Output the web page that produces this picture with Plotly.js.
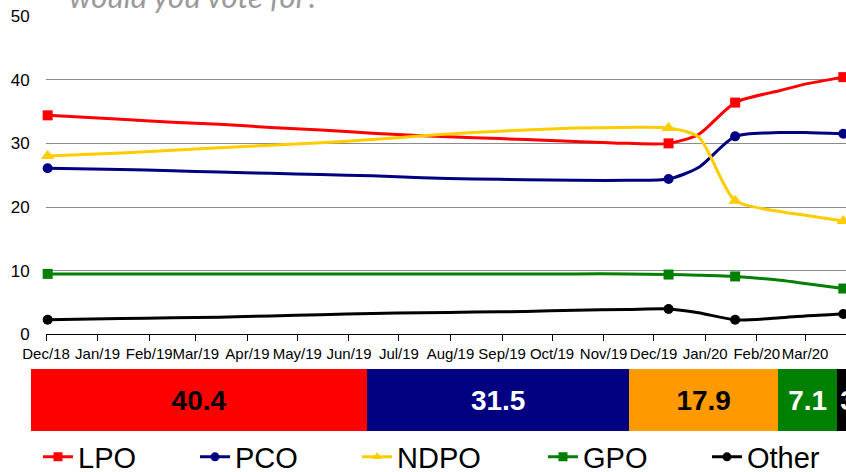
<!DOCTYPE html>
<html>
<head>
<meta charset="utf-8">
<script src="https://cdn.plot.ly/plotly-3.0.1.min.js"></script>
<style>
html,body{margin:0;padding:0;overflow:hidden;background:#fff;}
#chart{width:880px;height:472px;}
</style>
</head>
<body>
<div id="chart"></div>
<script>
// ---- data ----
const dates = ['2018-12-02','2019-01-15','2019-02-15','2019-03-15','2019-04-15','2019-05-15',
  '2019-06-15','2019-07-15','2019-08-15','2019-09-15','2019-10-15','2019-11-15',
  '2019-12-10','2019-12-28','2020-01-19','2020-02-15','2020-03-01','2020-03-24'];
const markerIdx = [0, 12, 14, 17];
const parties = ['LPO','PCO','NDPO','GPO','Other'];
const lpo   = [34.4,33.8,33.3,33.0,32.5,32.1,31.6,31.2,30.9,30.6,30.3,30.0,30.0,31.4,36.4,38.3,39.3,40.4];
const pco   = [26.1,25.9,25.7,25.5,25.3,25.1,24.9,24.6,24.4,24.3,24.2,24.2,24.4,26.2,31.1,31.7,31.7,31.5];
const ndpo  = [28.0,28.5,28.9,29.3,29.7,30.1,30.6,31.2,31.7,32.1,32.4,32.5,32.4,31.0,21.0,19.3,18.7,17.8];
const gpo   = [9.5,9.5,9.5,9.5,9.5,9.5,9.5,9.5,9.5,9.5,9.5,9.5,9.4,9.3,9.1,8.5,8.0,7.2];
const other = [2.3,2.5,2.6,2.7,2.9,3.1,3.3,3.4,3.5,3.6,3.8,3.9,4.0,3.4,2.3,2.6,2.9,3.2];
const latest = [40.4, 31.5, 17.9, 7.1, 3.1];
const titleText = 'would you vote for?';

// ---- styles ----
const W = 880, H = 472;
const series = [lpo, pco, ndpo, gpo, other];
const lineColors = ['#ff0000','#000080','#ffcc00','#008000','#000000'];
const barColors  = ['#ff0000','#000080','#ff9900','#008000','#000000'];
const barText    = ['#000000','#ffffff','#000000','#ffffff','#ffffff'];
const barAnchor  = ['middle','middle','middle','middle','start'];
const symbols = ['square','circle','triangle-up','square','circle'];
const msize   = [10, 10, 12, 10, 10];
const legW    = [112, 117, 141, 119, 120];
const FONT = 'Liberation Sans, Arial, sans-serif';

const traces = [];
series.forEach((s, i) => {
  traces.push({
    x: dates, y: s, type: 'scatter', mode: 'lines',
    line: {color: lineColors[i], width: 3, shape: 'spline', smoothing: 0.7},
    showlegend: false, hoverinfo: 'skip', xaxis: 'x', yaxis: 'y'
  });
  traces.push({
    x: markerIdx.map(k => dates[k]), y: markerIdx.map(k => s[k]),
    type: 'scatter', mode: 'markers', cliponaxis: false,
    marker: {symbol: symbols[i], size: msize[i], color: lineColors[i]},
    showlegend: false, hoverinfo: 'skip', xaxis: 'x', yaxis: 'y'
  });
});
// legend entries
parties.forEach((p, i) => {
  traces.push({
    x: [null], y: [null], type: 'scatter', mode: 'lines+markers', name: p,
    line: {color: lineColors[i], width: 3},
    marker: {symbol: symbols[i], size: 9, color: lineColors[i]},
    legendwidth: legW[i], xaxis: 'x', yaxis: 'y', hoverinfo: 'skip'
  });
});
// stacked bar
parties.forEach((p, i) => {
  traces.push({
    type: 'bar', orientation: 'h', x: [latest[i]], y: ['latest'],
    xaxis: 'x2', yaxis: 'y2', width: 1,
    marker: {color: barColors[i], line: {width: 0}},
    text: [latest[i].toFixed(1)], textposition: 'inside', insidetextanchor: barAnchor[i],
    textangle: 0, constraintext: 'none',
    insidetextfont: {family: FONT, size: 28, color: barText[i], weight: 'bold'},
    showlegend: false, hoverinfo: 'skip'
  });
});

const layout = {
  width: W, height: H,
  margin: {l: 0, r: 0, t: 0, b: 0, pad: 0, autoexpand: false},
  paper_bgcolor: '#fff', plot_bgcolor: '#fff',
  barmode: 'stack',
  showlegend: true,
  uniformtext: {mode: 'show', minsize: 28},
  xaxis: {
    domain: [46 / W, 855 / W], type: 'date',
    range: ['2018-12-01', '2020-03-31'],
    tick0: '2018-12-01', dtick: 'M1', tickformat: '%b/%y', tickangle: 0,
    ticks: 'outside', ticklen: 6, tickcolor: '#000', tickwidth: 1,
    showline: true, linecolor: '#000', linewidth: 1,
    showgrid: false, zeroline: false,
    tickfont: {family: FONT, size: 15, color: '#000'},
    anchor: 'y', fixedrange: true
  },
  yaxis: {
    domain: [1 - 334.4 / H, 1 - 16 / H], range: [0, 50], dtick: 10,
    showgrid: true, gridcolor: '#8c8c8c', gridwidth: 1,
    zeroline: false, showline: false,
    ticks: 'outside', ticklen: 12, tickcolor: 'rgba(0,0,0,0)',
    tickfont: {family: FONT, size: 17, color: '#000'},
    anchor: 'x', fixedrange: true
  },
  xaxis2: {domain: [31 / W, 863 / W], range: [0, 100], visible: false, anchor: 'y2', fixedrange: true},
  yaxis2: {domain: [1 - 431 / H, 1 - 369 / H], range: [-0.5, 0.5], visible: false,
           anchor: 'x2', type: 'category', fixedrange: true},
  legend: {
    orientation: 'h', x: 38 / W, xanchor: 'left', y: 1 - 457 / H, yanchor: 'middle',
    font: {family: FONT, size: 29, color: '#000'},
    itemwidth: 30, bgcolor: 'rgba(0,0,0,0)', borderwidth: 0, traceorder: 'normal'
  },
  annotations: [{
    text: titleText, xref: 'paper', yref: 'paper', x: 67 / W, xanchor: 'left',
    y: 1, yanchor: 'top', yshift: 25, showarrow: false,
    font: {family: 'Lato, Liberation Sans, sans-serif', size: 31, color: '#9a9a9a', style: 'italic'}
  }]
};

Plotly.newPlot('chart', traces, layout, {displayModeBar: false, staticPlot: true});
</script>
</body>
</html>
